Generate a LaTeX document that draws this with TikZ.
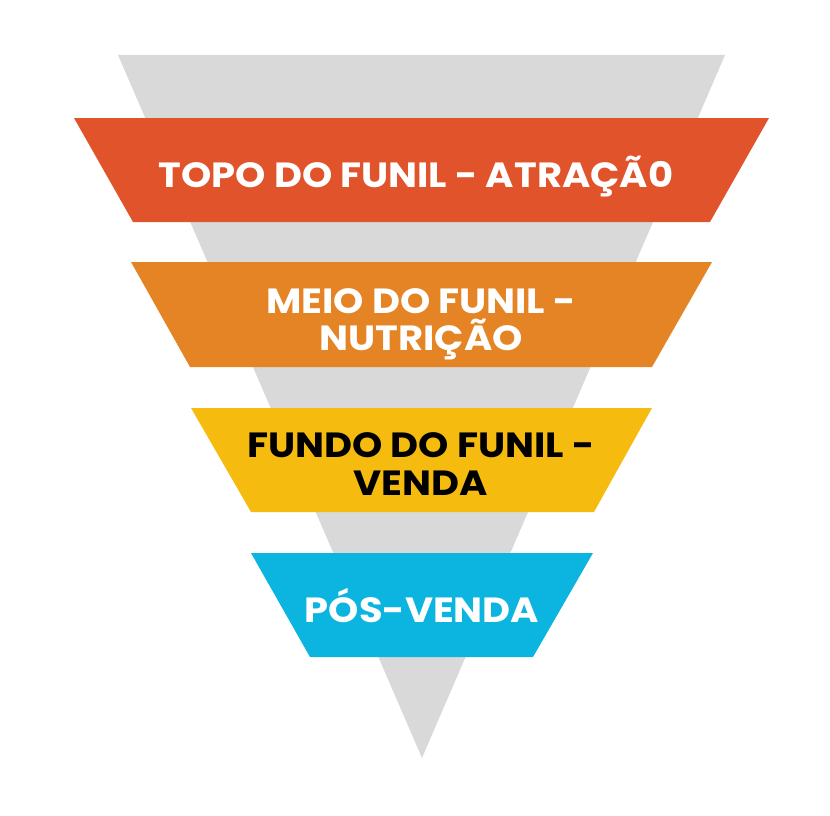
\documentclass[tikz,border=0pt]{standalone}
\usepackage{fontspec}
\setmainfont{Poppins}[FakeStretch=1.1]
\definecolor{fgray}{HTML}{D9D9D9}
\definecolor{fred}{HTML}{E0532B}
\definecolor{forange}{HTML}{E58425}
\definecolor{fyellow}{HTML}{F6BB0F}
\definecolor{fblue}{HTML}{0BB5E0}
\tikzset{
  lbl/.style={anchor=base, font=\fontsize{35}{40}\selectfont\bfseries, inner sep=0pt},
  wlbl/.style={lbl, text=white},
  klbl/.style={lbl, text=black},
}
\begin{document}
\begin{tikzpicture}[x=1pt,y=-1pt]
\useasboundingbox (0,0) rectangle (830,816);
\fill[fgray] (118,55) -- (725,55) -- (422,758) -- cycle;
\fill[fred] (74,118) -- (769,118) -- (710,222) -- (133,222) -- cycle;
\fill[forange] (131,262) -- (712,262) -- (652,367) -- (190,367) -- cycle;
\fill[fyellow] (191,408) -- (652,408) -- (594,512) -- (251,512) -- cycle;
\fill[fblue] (251,553) -- (593,553) -- (533,657) -- (310,657) -- cycle;
\node[wlbl] (t1) at (416,187) {TOPO DO FUNIL - ATRAÇÃ0};
\node[wlbl] (t2a) at (421,313) {MEIO DO FUNIL -};
\node[wlbl] (t2b) at (421,350) {NUTRIÇÃO};
\node[klbl] (t3a) at (421,457) {FUNDO DO FUNIL -};
\node[klbl] (t3b) at (421,495) {VENDA};
\node[wlbl] (t4) at (422,622) {PÓS-VENDA};
\end{tikzpicture}
\end{document}
